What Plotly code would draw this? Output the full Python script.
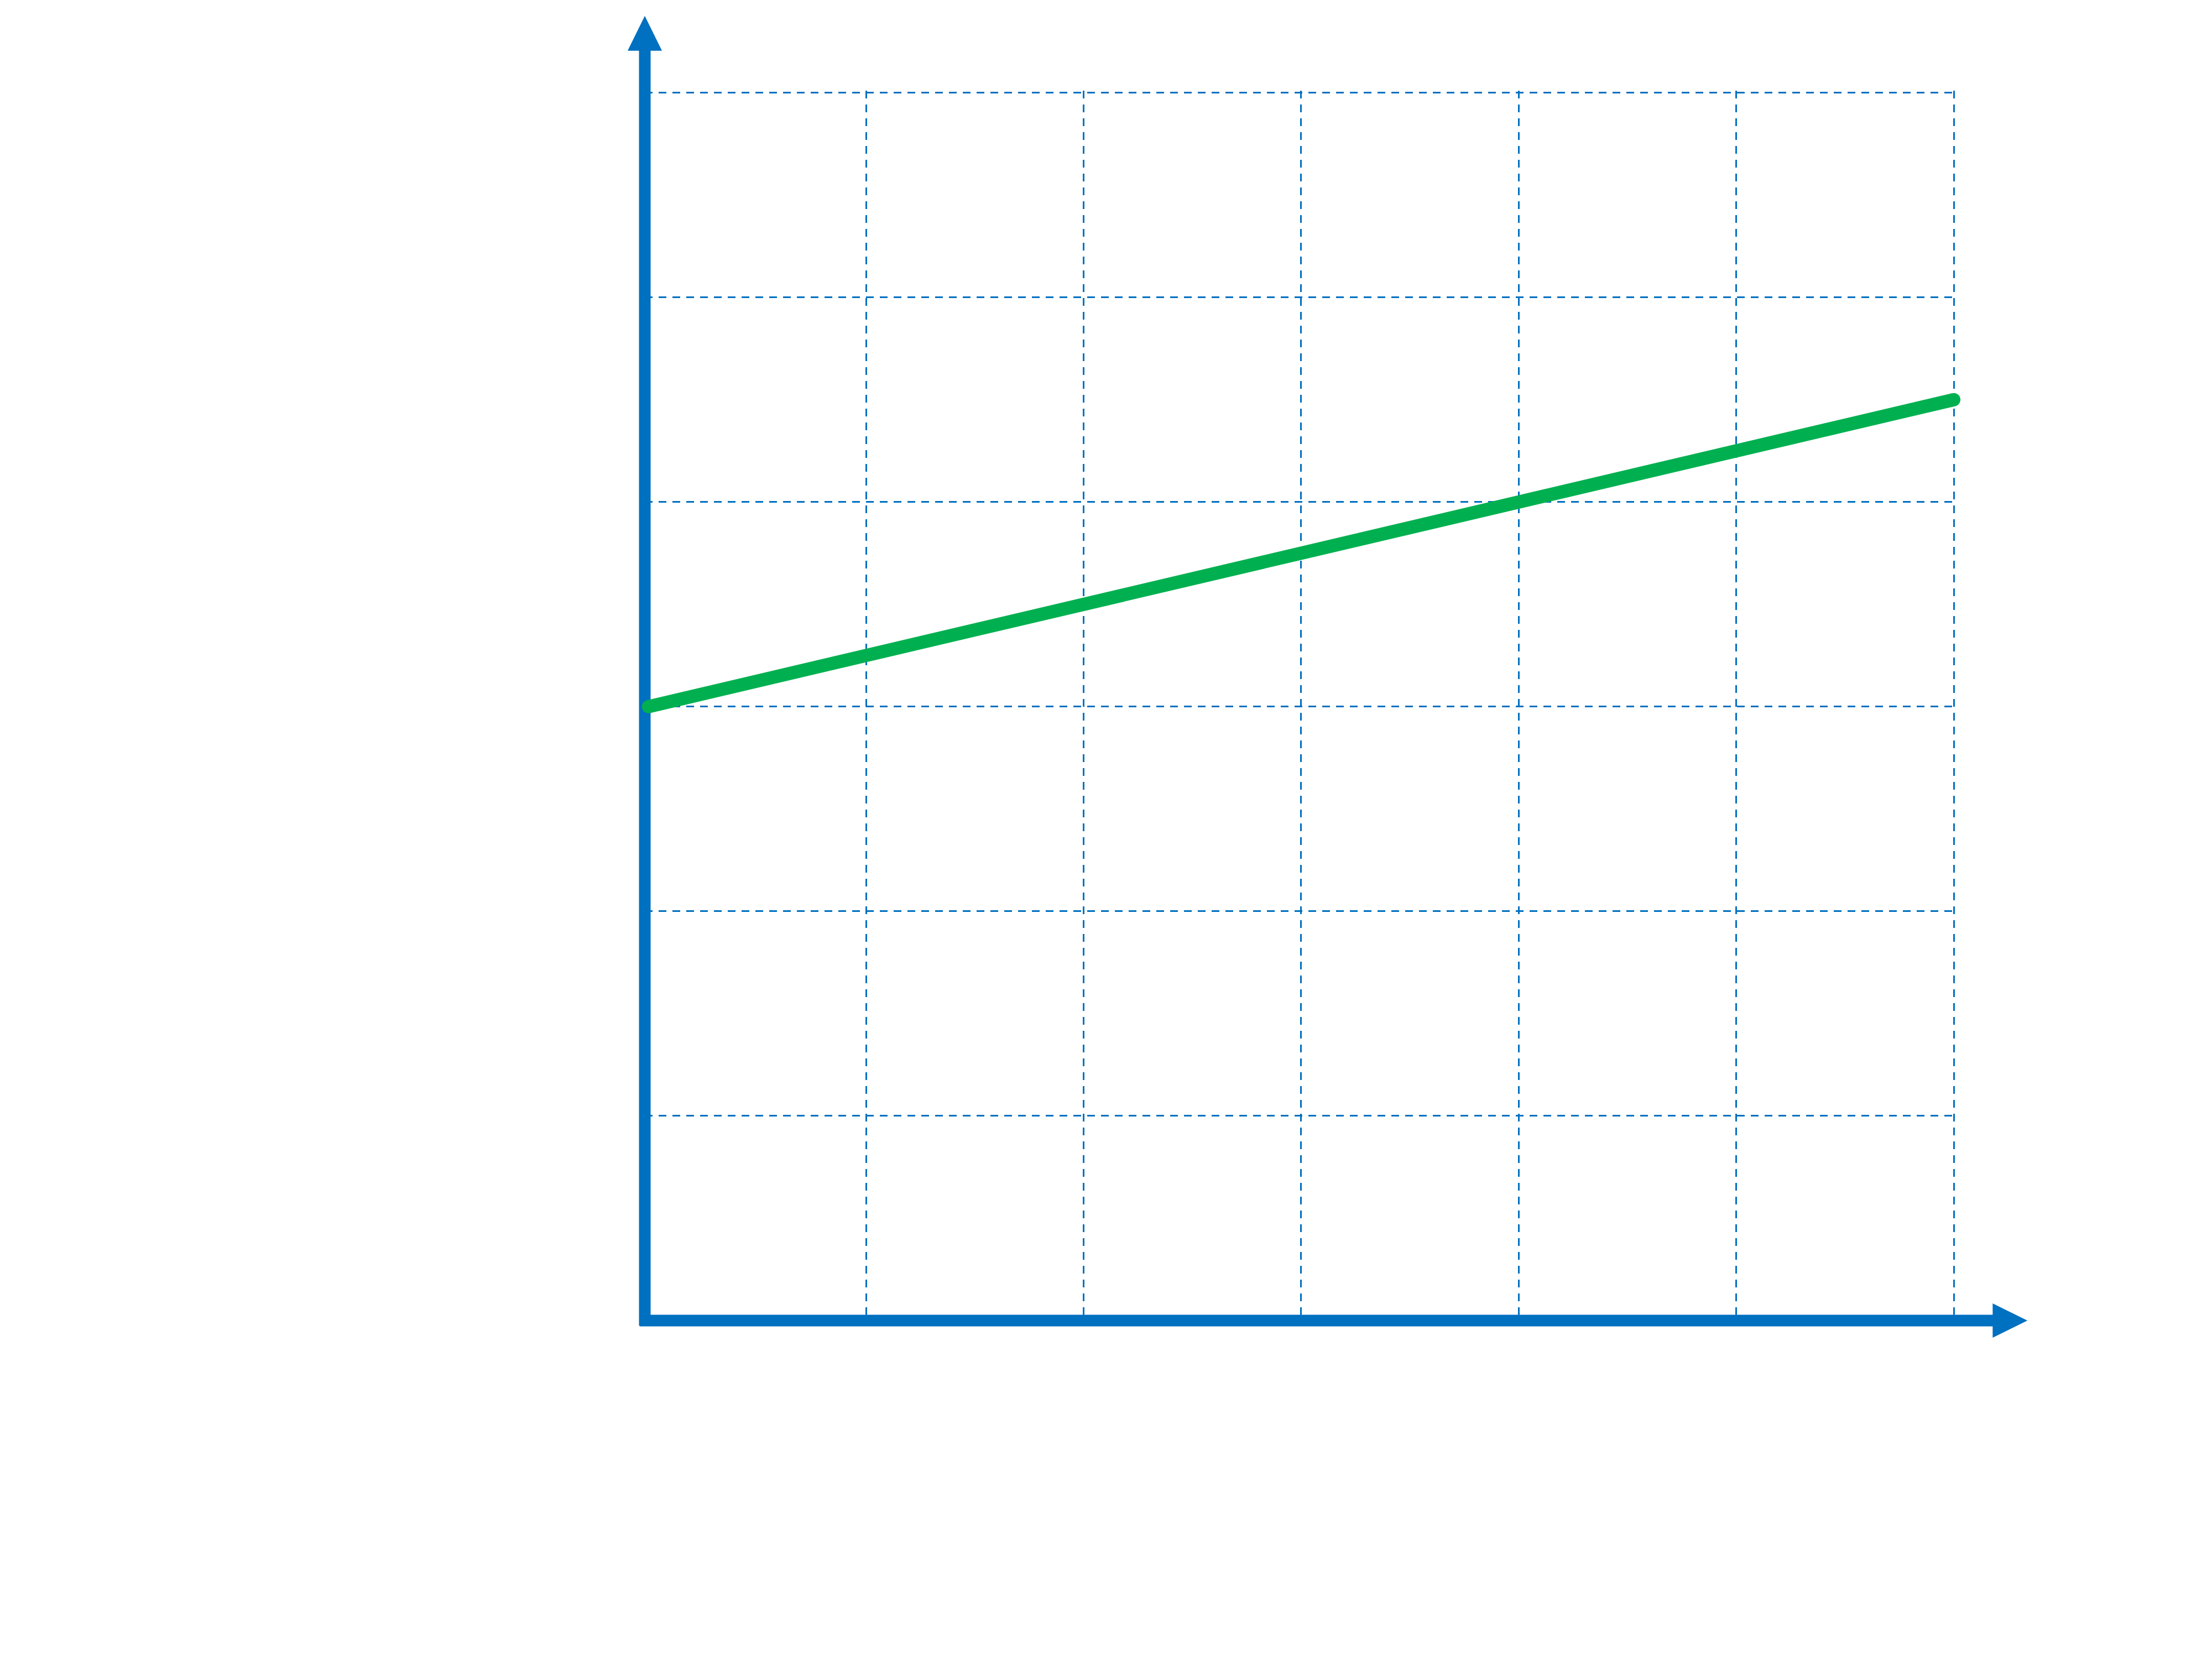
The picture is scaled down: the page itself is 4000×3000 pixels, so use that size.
import plotly.graph_objects as go

# values
x_values = [0, 6]
y_values = [3, 4.5]
x_ticks = [0, 1, 2, 3, 4, 5, 6]
y_ticks = [0, 1, 2, 3, 4, 5, 6]

blue = '#0070C0'
green = '#00B050'

fig = go.Figure()
fig.add_trace(go.Scatter(x=x_values, y=y_values, mode='lines+markers',
                         line=dict(color=green, width=24),
                         marker=dict(color=green, size=24),
                         cliponaxis=False, showlegend=False, hoverinfo='skip'))

# axis lines with arrow heads, in paper coordinates (paper == plot area here)
axis_w = 21
fig.add_shape(type='line', xref='paper', yref='paper', x0=0, y0=-0.004, x1=0, y1=1.034,
              line=dict(color=blue, width=axis_w), layer='below')
fig.add_shape(type='line', xref='paper', yref='paper', x0=-0.004, y0=0, x1=1.030, y1=0,
              line=dict(color=blue, width=axis_w), layer='below')
fig.add_shape(type='path', xref='paper', yref='paper',
              path='M -0.0131,1.0325 L 0.0131,1.0325 L 0,1.0608 Z',
              fillcolor=blue, line=dict(width=0), layer='below')
fig.add_shape(type='path', xref='paper', yref='paper',
              path='M 1.028,-0.01396 L 1.028,0.01396 L 1.0545,0 Z',
              fillcolor=blue, line=dict(width=0), layer='below')

# range runs a hair past 6 so plotly keeps the gridlines at the far edges
grid = dict(showgrid=True, gridcolor=blue, gridwidth=3, griddash='14px,11px',
            zeroline=False, showline=False, showticklabels=False, ticks='')
fig.update_xaxes(range=[-0.017, 6.01], tickvals=x_ticks, **grid)
fig.update_yaxes(range=[0, 6.01], tickvals=y_ticks, **grid)

fig.update_layout(width=4000, height=3000,
                  margin=dict(l=1158, r=471, t=156, b=620),
                  plot_bgcolor='white', paper_bgcolor='white')

fig.write_html("out.html")
